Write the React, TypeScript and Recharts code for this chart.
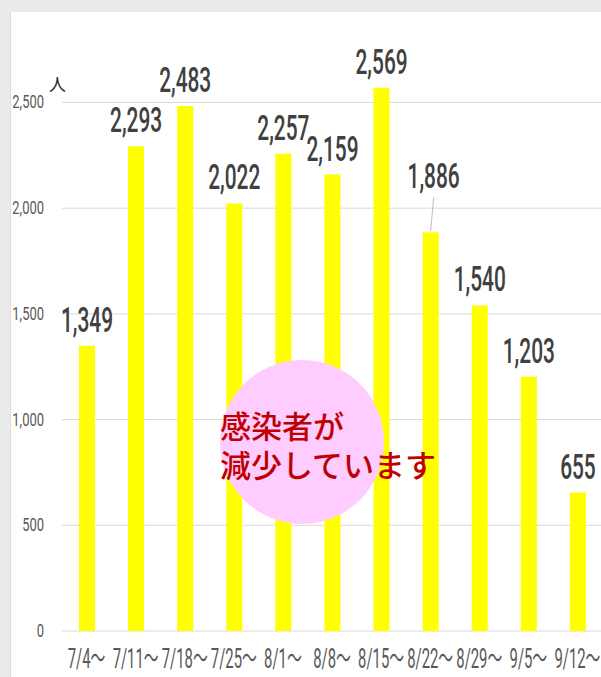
import React from 'react';
import { BarChart, Bar, XAxis, YAxis, CartesianGrid, LabelList } from 'recharts';

const weeks = ['7/4～', '7/11～', '7/18～', '7/25～', '8/1～', '8/8～', '8/15～', '8/22～', '8/29～', '9/5～', '9/12～'];
const cases = [1349, 2293, 2483, 2022, 2257, 2159, 2569, 1886, 1540, 1203, 655];
const yTicks = [0, 500, 1000, 1500, 2000, 2500];
const noteLines = ['感染者が', '減少しています'];

const data = weeks.map((week, i) => ({ week, cases: cases[i] }));

const narrowFont = "Roboto, 'Noto Sans CJK JP', sans-serif";
const jpFont = "'Noto Sans CJK JP', 'Noto Sans', sans-serif";

// condensed look: squeeze the text horizontally around its anchor
const Squeezed = ({ x, y, text, size, sx, fill, weight }: any) => (
  <text
    transform={`translate(${x},${y}) scale(${sx},1)`}
    fontSize={size}
    fill={fill}
    fontWeight={weight}
    textAnchor="middle"
    fontFamily={narrowFont}
  >
    {text}
  </text>
);

const YTick = (props: any) => {
  const { x, y, payload } = props;
  return (
    <text
      transform={`translate(${x},${y + 6}) scale(0.72,1)`}
      fontSize={18}
      fill="#595959"
      textAnchor="end"
      fontFamily={narrowFont}
    >
      {payload.value.toLocaleString('en-US')}
    </text>
  );
};

const XTick = (props: any) => {
  const { x, y, payload } = props;
  return <Squeezed x={x} y={y + 37} text={payload.value} size={27} sx={0.55} fill="#595959" />;
};

const ValueLabel = (props: any) => {
  const { x, y, width, value, index } = props;
  const cx = x + width / 2;
  const txt = value.toLocaleString('en-US');
  if (index === 7) {
    // this one sits higher with a leader line down to the bar
    return (
      <g>
        <line x1={cx + 3} y1={y - 35} x2={cx} y2={y - 1} stroke="#bfbfbf" strokeWidth={1} />
        <Squeezed x={cx + 3} y={y - 44} text={txt} size={36} sx={0.58} fill="#404040" weight={500} />
      </g>
    );
  }
  return <Squeezed x={cx} y={y - 14} text={txt} size={36} sx={0.58} fill="#404040" weight={500} />;
};

const App: React.FC = () => {
  return (
    <div style={{ position: 'absolute', left: 0, top: 0, width: 601, height: 677, overflow: 'hidden', background: '#ebebeb' }}>
      <div style={{ position: 'absolute', left: 10, top: 12, right: 0, bottom: 0, background: '#fff', borderLeft: '1px solid #dcdcdc' }} />
      <div style={{ position: 'absolute', left: 0, top: 0 }}>
        <BarChart width={602} height={677} data={data} margin={{ top: 39, right: 0, bottom: 0, left: 0 }}>
          <CartesianGrid vertical={false} stroke="#d9d9d9" horizontalValues={yTicks} />
          <XAxis dataKey="week" height={46} axisLine={false} tickLine={false} tickSize={0} tickMargin={0} interval={0} tick={XTick} />
          <YAxis
            type="number"
            domain={[0, 2800]}
            ticks={yTicks}
            width={62}
            axisLine={false}
            tickLine={false}
            tickSize={0}
            tickMargin={18}
            tick={YTick}
          />
          <Bar dataKey="cases" fill="#ffff00" barSize={16} isAnimationActive={false}>
            <LabelList dataKey="cases" content={ValueLabel} />
          </Bar>
        </BarChart>
      </div>
      <div style={{ position: 'absolute', left: 49, top: 74, fontSize: 17, lineHeight: '20px', color: '#222', fontFamily: jpFont }}>人</div>
      <div style={{ position: 'absolute', left: 220, top: 360, width: 164, height: 164, borderRadius: '50%', background: '#ffccff' }} />
      {noteLines.map((line, i) => (
        <div
          key={line}
          style={{
            position: 'absolute',
            left: 220,
            top: 405 + i * 39,
            height: 39,
            fontSize: 31,
            lineHeight: '39px',
            color: '#c00000',
            fontFamily: jpFont,
            fontWeight: 500,
            whiteSpace: 'nowrap',
          }}
        >
          {line}
        </div>
      ))}
    </div>
  );
};

export default App;
